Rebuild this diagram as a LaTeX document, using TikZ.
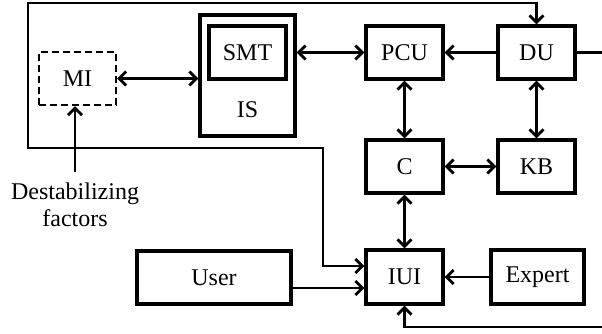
\documentclass[tikz,border=0pt]{standalone}
\usepackage{fontspec}
\setmainfont{Liberation Serif}
\usetikzlibrary{arrows.meta}
\tikzset{
  tip/.style={Straight Barb[length=7pt,width=14pt,line width=2.8pt]},
  box/.style={draw, line width=3.3pt, minimum width=77pt, minimum height=53pt, inner sep=0pt,
    font=\fontsize{24}{27}\selectfont},
  con/.style={line width=2.8pt, arrows={-Straight Barb[length=7pt,width=14pt,line width=2.8pt]}},
  bcon/.style={line width=2.8pt, arrows={Straight Barb[length=7pt,width=14pt,line width=2.8pt]-Straight Barb[length=7pt,width=14pt,line width=2.8pt]}},
  fb/.style={line width=2.4pt},
  lbl/.style={font=\fontsize{24}{27}\selectfont, inner sep=0pt}
}
\begin{document}
\begin{tikzpicture}[x=1pt,y=-1pt]
\useasboundingbox (0,0) rectangle (602,334);
% nodes
\node[box, dashed, dash pattern=on 7pt off 4pt, line width=2.4pt] (MI) at (77.5,78.5) {MI};
\node[box, minimum width=95pt, minimum height=121pt] (IS) at (247.5,75.5) {};
\node[box] (SMT) at (247.5,52.5) {SMT};
\node[lbl] (ISl) at (247.5,110) {IS};
\node[box] (PCU) at (404.5,52.5) {PCU};
\node[box] (DU) at (536.5,52.5) {DU};
\node[box] (C) at (404.5,166.5) {C};
\node[box] (KB) at (536.5,166.5) {KB};
\node[box, minimum height=54pt] (IUI) at (404.5,277) {IUI};
\node[box, minimum width=93pt, minimum height=54pt] (Expert) at (537.5,277) {Expert};
\node[box, minimum width=154pt] (User) at (214,277.5) {User};
\node[lbl, align=center, anchor=north, inner sep=2pt] (df) at (75,181) {Destabilizing\\factors};
% coordinates
\coordinate (tl) at (28,3);
\coordinate (bl) at (28,148);
\coordinate (mid) at (323,148);
\coordinate (r1) at (615,52.5);
\coordinate (r2) at (615,327);
\coordinate (ua) at ([yshift=-10.5pt]User.east);
\coordinate (fa) at ([yshift=11pt]IUI.west);
% connectors
\draw[bcon] (MI.east) -- (IS.west |- MI.east);
\draw[bcon] (IS.east |- PCU.west) -- (PCU.west);
\draw[con] (DU.west) -- (PCU.east);
\draw[bcon] (PCU.south) -- (C.north);
\draw[bcon] (DU.south) -- (KB.north);
\draw[bcon] (C.east) -- (KB.west);
\draw[bcon] (C.south) -- (IUI.north);
\draw[con] (Expert.west) -- (IUI.east);
\draw[con] (ua) -- (IUI.west |- ua);
\draw[con] ([yshift=9pt]df.north) -- (df.north |- MI.south);
\draw[fb, arrows={Straight Barb[length=7pt,width=14pt,line width=2.8pt]-Straight Barb[length=7pt,width=14pt,line width=2.8pt]}]
  (DU.north) |- (tl) -- (bl) -| (mid) |- (fa);
\draw[fb, arrows={-Straight Barb[length=7pt,width=14pt,line width=2.8pt]}]
  (DU.east) -- (r1) -- (r2) -| (IUI.south);
\end{tikzpicture}
\end{document}
